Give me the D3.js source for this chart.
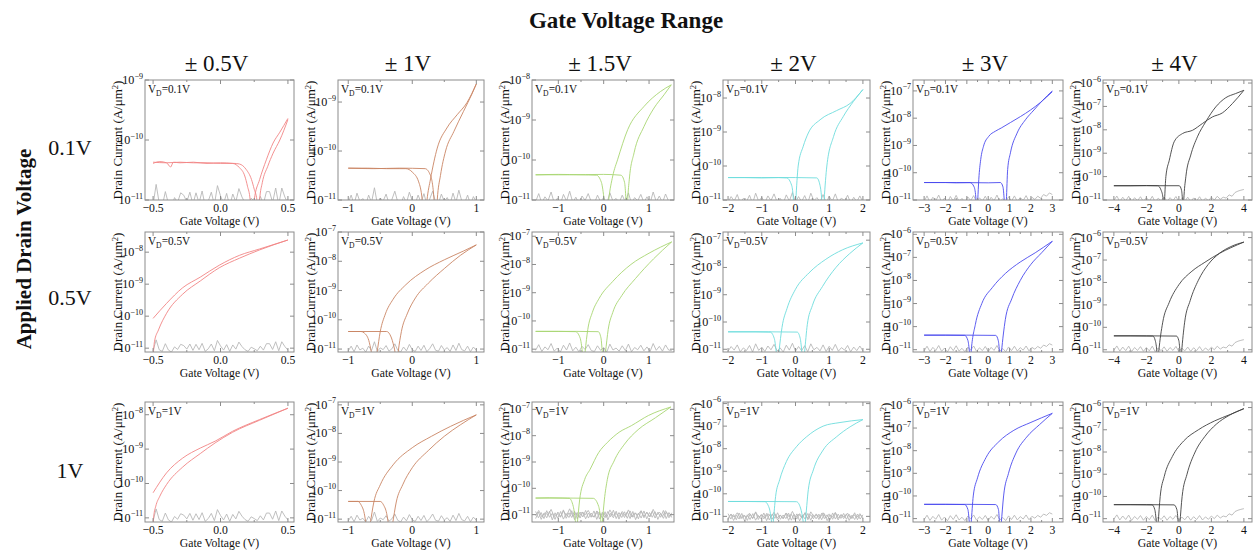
<!DOCTYPE html>
<html>
<head>
<meta charset="utf-8">
<script src="https://cdn.jsdelivr.net/npm/d3@7"></script>
<style>
  body { margin: 0; background: #fff; }
  text { font-family: "Liberation Serif", "Times New Roman", serif; fill: #111; }
</style>
</head>
<body>
<script>
// ---- grid labels ----
const gateRanges = [0.5, 1, 1.5, 2, 3, 4];
const columnTitles = ["± 0.5V", "± 1V", "± 1.5V", "± 2V", "± 3V", "± 4V"];
const drainLabels = ["0.1V", "0.5V", "1V"];
const sweepColors = ["#f28484", "#c98463", "#a8d672", "#6ddcdc", "#4a4aee", "#404040"];
const xTickValues = [
  [-0.5, 0, 0.5], [-1, 0, 1], [-1, 0, 1],
  [-2, -1, 0, 1, 2], [-3, -2, -1, 0, 1, 2, 3], [-4, -2, 0, 2, 4]
];
// gate-voltage axis limits per column
const xAxisLow = [-0.56, -1.16, -1.58, -2.15, -3.52, -4.67];
const xAxisHigh = [0.545, 1.12, 1.55, 2.21, 3.5, 4.5];
// log10 of the drain-current axis limits (rows: V_D, columns: gate range)
const yLogLow = [
  [-11, -11, -11, -11, -11, -11],
  [-11.12, -11.1, -11.1, -11.1, -11.1, -11.1],
  [-11.12, -11.1, -11.28, -11.25, -11.15, -11.15]
];
const yLogHigh = [
  [-9, -8.55, -8, -7.47, -6.6, -5.87],
  [-7.37, -7.0, -6.85, -6.7, -5.9, -5.75],
  [-7.63, -6.9, -6.72, -5.93, -5.85, -5.75]
];

// ---- transfer sweeps: [gate voltage (V), log10 drain current (A/um^2)] ----
// V_D = 0.1 V
const fwdR0C0 = [[-0.5,-10.39],[-0.45,-10.36],[-0.4,-10.38],[-0.37,-10.45],[-0.35,-10.37],[-0.3,-10.38],[-0.2,-10.37],[-0.1,-10.39],[0,-10.38],[0.09,-10.39],[0.14,-10.46],[0.18,-10.6],[0.2,-10.77],[0.22,-11.0],[0.235,-11.5],[0.25,-11.0],[0.29,-10.66],[0.34,-10.33],[0.39,-10.05],[0.44,-9.87],[0.5,-9.64]];
const revR0C0 = [[-0.5,-10.37],[-0.4,-10.38],[-0.3,-10.37],[-0.2,-10.38],[-0.1,-10.38],[0,-10.39],[0.1,-10.39],[0.14,-10.4],[0.19,-10.49],[0.23,-10.66],[0.25,-10.82],[0.27,-11.0],[0.28,-11.5],[0.29,-11.0],[0.31,-10.71],[0.35,-10.44],[0.39,-10.22],[0.44,-10.0],[0.5,-9.66]];
const fwdR0C1 = [[-1,-10.35],[-0.7,-10.35],[-0.4,-10.36],[-0.1,-10.36],[0,-10.43],[0.1,-10.63],[0.155,-11.0],[0.19,-11.6],[0.23,-11.0],[0.285,-10.57],[0.39,-9.94],[0.54,-9.53],[0.7,-9.26],[0.855,-9.01],[1,-8.63]];
const revR0C1 = [[-1,-10.35],[-0.6,-10.36],[-0.2,-10.35],[0.2,-10.36],[0.285,-10.5],[0.34,-11.0],[0.365,-11.6],[0.39,-11.0],[0.44,-10.5],[0.52,-10.0],[0.65,-9.6],[0.8,-9.19],[0.93,-8.84],[1,-8.63]];
const fwdR0C2 = [[-1.5,-10.37],[-1.0,-10.36],[-0.5,-10.37],[-0.16,-10.38],[-0.05,-10.56],[0.01,-11.0],[0.06,-11.6],[0.11,-11.0],[0.2,-10.4],[0.31,-9.98],[0.53,-9.24],[0.89,-8.66],[1.25,-8.29],[1.49,-8.12]];
const revR0C2 = [[-1.5,-10.37],[-0.8,-10.37],[0,-10.36],[0.38,-10.38],[0.46,-10.56],[0.49,-11.0],[0.51,-11.6],[0.53,-11.0],[0.565,-10.48],[0.67,-9.82],[0.89,-9.16],[1.11,-8.7],[1.33,-8.37],[1.49,-8.12]];
const fwdR0C3 = [[-2,-10.34],[-1.5,-10.34],[-1,-10.35],[-0.5,-10.34],[-0.26,-10.35],[-0.11,-10.58],[-0.06,-11.0],[-0.025,-11.6],[0.01,-11.0],[0.08,-10.0],[0.23,-9.42],[0.38,-9.03],[0.73,-8.64],[1.22,-8.37],[1.62,-8.16],[2,-7.75]];
const revR0C3 = [[-2,-10.34],[-1,-10.34],[0,-10.34],[0.63,-10.35],[0.73,-10.58],[0.78,-11.0],[0.815,-11.6],[0.85,-11.0],[0.93,-10.0],[1.13,-9.13],[1.42,-8.54],[1.72,-8.1],[2,-7.75]];
const fwdR0C4 = [[-3,-10.36],[-2,-10.36],[-1.5,-10.37],[-0.85,-10.36],[-0.66,-10.52],[-0.57,-11.0],[-0.53,-11.6],[-0.49,-11.0],[-0.44,-10.24],[-0.35,-9.51],[-0.22,-9.03],[0.02,-8.67],[0.33,-8.48],[0.61,-8.36],[1.04,-8.16],[1.51,-7.94],[1.98,-7.7],[2.45,-7.42],[3,-7.03]];
const revR0C4 = [[-3,-10.36],[-1.5,-10.36],[0,-10.37],[0.57,-10.36],[0.69,-10.52],[0.75,-11.0],[0.8,-11.6],[0.85,-11.0],[0.91,-9.88],[1.04,-9.27],[1.35,-8.55],[1.74,-8.06],[2.14,-7.7],[2.53,-7.36],[3,-7.0]];
const fwdR0C5 = [[-4,-10.39],[-3,-10.39],[-2,-10.38],[-1.3,-10.39],[-1.1,-10.57],[-0.96,-11.0],[-0.92,-11.6],[-0.88,-11.0],[-0.8,-10.0],[-0.59,-9.3],[-0.29,-8.51],[0.22,-8.16],[0.84,-8.02],[1.45,-7.73],[2.06,-7.45],[2.67,-7.28],[3.29,-6.88],[4,-6.31]];
const revR0C5 = [[-4,-10.39],[-2,-10.39],[0.02,-10.39],[0.16,-10.57],[0.22,-11.0],[0.26,-11.6],[0.3,-11.0],[0.43,-10.0],[0.73,-9.08],[1.14,-8.3],[1.65,-7.66],[2.27,-7.02],[2.88,-6.63],[3.49,-6.45],[4,-6.31]];
// V_D = 0.5 V
const fwdR1C0 = [[-0.5,-10.07],[-0.4,-9.6],[-0.28,-9.11],[-0.15,-8.78],[-0.01,-8.41],[0.14,-8.1],[0.29,-7.9],[0.5,-7.62]];
const revR1C0 = [[-0.5,-11.3],[-0.49,-10.8],[-0.46,-10.43],[-0.4,-9.91],[-0.28,-9.31],[-0.15,-8.9],[-0.01,-8.49],[0.14,-8.19],[0.29,-7.93],[0.5,-7.62]];
const fwdR1C1 = [[-1,-10.4],[-0.8,-10.4],[-0.75,-10.45],[-0.68,-10.7],[-0.64,-11.1],[-0.6,-11.6],[-0.55,-11.1],[-0.5,-10.4],[-0.42,-9.8],[-0.3,-9.3],[-0.1,-8.8],[0.2,-8.3],[0.5,-7.95],[0.8,-7.65],[1,-7.44]];
const revR1C1 = [[-1,-10.4],[-0.4,-10.4],[-0.35,-10.5],[-0.3,-10.8],[-0.27,-11.1],[-0.245,-11.6],[-0.22,-11.1],[-0.17,-10.4],[-0.08,-9.8],[0.05,-9.25],[0.25,-8.75],[0.5,-8.25],[0.75,-7.8],[1,-7.44]];
const fwdR1C2 = [[-1.5,-10.37],[-1,-10.37],[-0.62,-10.38],[-0.52,-10.6],[-0.47,-11.1],[-0.44,-11.6],[-0.41,-11.1],[-0.35,-10.3],[-0.25,-9.7],[-0.1,-9.2],[0.2,-8.6],[0.6,-8.0],[1.0,-7.6],[1.5,-7.2]];
const revR1C2 = [[-1.5,-10.37],[-0.6,-10.37],[-0.12,-10.38],[-0.06,-10.6],[-0.03,-11.1],[0.0,-11.6],[0.04,-11.1],[0.1,-10.3],[0.2,-9.7],[0.4,-9.1],[0.7,-8.5],[1.1,-7.8],[1.5,-7.2]];
const fwdR1C3 = [[-2,-10.36],[-1.2,-10.36],[-0.75,-10.37],[-0.63,-10.6],[-0.57,-11.1],[-0.53,-11.6],[-0.49,-11.1],[-0.4,-10.2],[-0.25,-9.5],[0,-8.8],[0.4,-8.2],[0.9,-7.7],[1.4,-7.35],[2,-7.1]];
const revR1C3 = [[-2,-10.36],[-0.8,-10.36],[0.05,-10.37],[0.14,-10.6],[0.19,-11.1],[0.23,-11.6],[0.27,-11.1],[0.35,-10.1],[0.5,-9.4],[0.8,-8.7],[1.2,-8.0],[1.6,-7.5],[2,-7.1]];
const fwdR1C4 = [[-3,-10.37],[-2,-10.37],[-1.1,-10.38],[-0.95,-10.6],[-0.88,-11.1],[-0.84,-11.6],[-0.8,-11.1],[-0.6,-9.9],[-0.3,-9.0],[0.2,-8.3],[0.8,-7.7],[1.5,-7.2],[2.2,-6.8],[3,-6.3]];
const revR1C4 = [[-3,-10.37],[-1,-10.37],[0.35,-10.38],[0.47,-10.6],[0.53,-11.1],[0.57,-11.6],[0.62,-11.1],[0.8,-9.7],[1.1,-8.8],[1.5,-8.0],[2.0,-7.3],[2.5,-6.8],[3,-6.3]];
const fwdR1C5 = [[-4,-10.38],[-3,-10.38],[-1.6,-10.39],[-1.45,-10.6],[-1.35,-11.1],[-1.3,-11.6],[-1.24,-11.1],[-1.0,-9.8],[-0.6,-8.9],[0,-8.1],[0.8,-7.5],[1.6,-7.1],[2.5,-6.7],[3.2,-6.45],[4,-6.2]];
const revR1C5 = [[-4,-10.38],[-2,-10.38],[-0.15,-10.39],[0.0,-10.6],[0.07,-11.1],[0.12,-11.6],[0.17,-11.1],[0.35,-9.8],[0.7,-8.8],[1.2,-7.9],[1.8,-7.2],[2.5,-6.7],[3.2,-6.4],[4,-6.2]];
// V_D = 1 V
const fwdR2C0 = [[-0.5,-10.27],[-0.4,-9.69],[-0.28,-9.26],[-0.15,-8.97],[-0.04,-8.77],[0.09,-8.48],[0.29,-8.14],[0.5,-7.81]];
const revR2C0 = [[-0.5,-11.3],[-0.495,-10.95],[-0.48,-10.66],[-0.45,-10.37],[-0.4,-10.03],[-0.28,-9.52],[-0.15,-9.13],[-0.04,-8.82],[0.09,-8.51],[0.29,-8.16],[0.5,-7.81]];
const fwdR2C1 = [[-1,-10.38],[-0.85,-10.38],[-0.8,-10.5],[-0.75,-10.8],[-0.72,-11.2],[-0.69,-11.6],[-0.66,-11.2],[-0.6,-10.4],[-0.5,-9.8],[-0.3,-9.1],[0,-8.5],[0.3,-8.1],[0.6,-7.75],[1,-7.35]];
const revR2C1 = [[-1,-10.38],[-0.5,-10.38],[-0.45,-10.5],[-0.4,-10.8],[-0.37,-11.2],[-0.34,-11.6],[-0.31,-11.2],[-0.25,-10.4],[-0.15,-9.8],[0,-9.2],[0.25,-8.6],[0.5,-8.1],[0.75,-7.7],[1,-7.35]];
const fwdR2C2 = [[-1.5,-10.37],[-1.2,-10.36],[-0.9,-10.37],[-0.76,-10.38],[-0.67,-10.69],[-0.62,-11.3],[-0.6,-11.6],[-0.58,-11.3],[-0.53,-10.44],[-0.42,-9.67],[-0.3,-9.28],[-0.11,-8.64],[0.08,-8.26],[0.34,-7.87],[0.61,-7.62],[0.99,-7.23],[1.48,-6.91]];
const revR2C2 = [[-1.5,-10.37],[-0.8,-10.37],[-0.23,-10.38],[-0.11,-10.69],[-0.06,-11.3],[-0.045,-11.6],[-0.03,-11.3],[0.015,-10.44],[0.08,-9.67],[0.23,-8.96],[0.46,-8.32],[0.76,-7.77],[1.14,-7.32],[1.48,-6.91]];
const fwdR2C3 = [[-2,-10.34],[-1.5,-10.34],[-0.91,-10.35],[-0.78,-10.63],[-0.71,-11.25],[-0.685,-11.6],[-0.66,-11.25],[-0.59,-10.12],[-0.47,-9.38],[-0.27,-8.57],[0.03,-7.91],[0.33,-7.47],[0.82,-7.0],[1.32,-6.84],[2,-6.71]];
const revR2C3 = [[-2,-10.34],[-1,-10.34],[0.03,-10.35],[0.15,-10.63],[0.23,-11.25],[0.26,-11.6],[0.29,-11.25],[0.38,-9.82],[0.53,-8.94],[0.82,-8.06],[1.22,-7.47],[1.62,-7.03],[2,-6.71]];
const fwdR2C4 = [[-3,-10.37],[-2,-10.37],[-1.1,-10.38],[-0.95,-10.6],[-0.88,-11.2],[-0.84,-11.6],[-0.8,-11.2],[-0.7,-10.0],[-0.5,-9.2],[-0.1,-8.3],[0.5,-7.6],[1.2,-7.1],[2,-6.75],[3,-6.35]];
const revR2C4 = [[-3,-10.37],[-1,-10.37],[0.35,-10.38],[0.48,-10.6],[0.53,-11.2],[0.57,-11.6],[0.61,-11.2],[0.72,-10.0],[0.95,-9.0],[1.3,-8.1],[1.8,-7.4],[2.4,-6.85],[3,-6.35]];
const fwdR2C5 = [[-4,-10.37],[-3,-10.37],[-1.65,-10.38],[-1.48,-10.6],[-1.38,-11.2],[-1.33,-11.6],[-1.28,-11.2],[-1.15,-10.0],[-0.9,-9.1],[-0.4,-8.2],[0.3,-7.5],[1.2,-7.0],[2.2,-6.6],[3.2,-6.3],[4,-6.05]];
const revR2C5 = [[-4,-10.37],[-2,-10.37],[-0.3,-10.38],[-0.12,-10.6],[-0.04,-11.2],[0.01,-11.6],[0.06,-11.2],[0.2,-10.0],[0.5,-9.0],[1.0,-8.0],[1.6,-7.3],[2.3,-6.75],[3.1,-6.35],[4,-6.05]];

// ---- gate leakage, log10 current on an even gate-voltage grid ----
const leakC0 = [-11.08,-10.74,-11.05,-11.1,-10.86,-11.06,-11.12,-10.96,-11.04,-10.88,-10.92,-11.03,-10.87,-11.07,-10.88,-11.05,-10.85,-11.1,-11.02,-10.87,-11.08,-10.76,-10.93,-11.06,-10.89,-11.1,-10.9,-11.03,-10.81,-10.95,-11.05,-11.1,-10.97,-11.02,-11.08,-10.94,-11.06,-10.86,-10.86,-11.04,-10.8,-11.08,-10.8,-10.95,-11.06];
const leakC1 = [-11.06,-10.9,-11.09,-10.86,-11.03,-10.97,-11.1,-10.9,-11.05,-10.75,-11.08,-10.96,-11.02,-10.88,-11.07,-10.99,-10.82,-11.04,-11.1,-10.93,-11.06,-10.84,-11.02,-11.08,-10.9,-11.05,-10.87,-11.09,-10.98,-10.82,-11.04,-11.07,-10.88,-11.03,-10.95,-11.08,-10.86,-11.05,-10.8,-11.02,-11.06,-10.9,-11.09,-10.93,-11.04];
const leakC2 = [-11.04,-10.84,-11.08,-10.92,-11.02,-10.8,-11.07,-10.96,-11.1,-10.86,-11.03,-10.78,-11.06,-10.93,-11.09,-10.9,-11.01,-10.84,-11.05,-11.08,-10.88,-11.04,-10.94,-11.1,-10.82,-11.03,-10.96,-11.07,-10.88,-11.05,-10.82,-11.09,-10.94,-11.02,-10.86,-11.06,-10.92,-11.08,-10.8,-11.04,-10.9,-11.07,-10.85,-11.03,-11.05];
const leakC3 = [-11.07,-10.9,-11.03,-10.84,-11.09,-10.95,-11.05,-10.86,-11.1,-10.8,-11.04,-10.92,-11.08,-10.88,-11.02,-10.82,-11.06,-10.95,-11.1,-10.85,-11.03,-10.78,-11.07,-10.9,-11.05,-10.87,-11.09,-10.8,-11.02,-10.93,-11.06,-10.84,-11.08,-10.89,-11.04,-10.82,-11.07,-10.94,-11.03,-10.86,-11.09,-10.92,-11.05,-10.88,-11.06];
const leakC4 = [-11.05,-10.85,-11.08,-10.9,-11.03,-10.82,-11.07,-10.93,-11.1,-10.87,-11.04,-10.83,-11.06,-10.94,-11.09,-10.89,-11.02,-10.84,-11.07,-10.92,-11.04,-10.86,-11.08,-10.9,-11.03,-10.82,-11.06,-10.95,-11.09,-10.88,-11.04,-10.85,-11.06,-10.91,-11.02,-10.84,-11.05,-10.9,-10.98,-10.86,-10.94,-10.8,-10.86,-10.74,-10.8];
const leakC5 = [-11.02,-10.83,-11.06,-10.88,-11.04,-10.84,-11.08,-10.9,-11.03,-10.86,-11.07,-10.9,-11.05,-10.84,-11.09,-10.92,-11.04,-10.87,-11.07,-10.9,-11.03,-10.85,-11.08,-10.93,-11.05,-10.88,-11.07,-10.91,-11.04,-10.86,-11.06,-10.92,-11.03,-10.88,-11.0,-10.84,-10.97,-10.88,-10.92,-10.78,-10.84,-10.68,-10.62,-10.58,-10.55];
// extra leakage traces for the dense band at V_D = 1 V
const leakBandA = [-10.88,-11.12,-10.92,-11.15,-10.85,-11.1,-10.95,-11.18,-10.9,-11.08,-10.82,-11.14,-10.93,-11.11,-10.87,-11.16,-10.9,-11.09,-10.84,-11.13,-10.94,-11.1,-10.86,-11.17,-10.91,-11.12,-10.88,-11.08,-10.83,-11.15,-10.92,-11.11,-10.89,-11.14,-10.86,-11.1,-10.93,-11.16,-10.85,-11.12,-10.9,-11.09,-10.87,-11.13,-10.91,-11.1,-10.84,-11.15,-10.92,-11.11];
const leakBandB = [-11.15,-10.9,-11.18,-10.95,-11.12,-10.87,-11.2,-10.93,-11.14,-10.88,-11.17,-10.96,-11.11,-10.85,-11.19,-10.92,-11.13,-10.9,-11.16,-10.94,-11.1,-10.86,-11.18,-10.91,-11.14,-10.89,-11.2,-10.95,-11.12,-10.87,-11.17,-10.93,-11.11,-10.9,-11.15,-10.88,-11.19,-10.94,-11.13,-10.86,-11.16,-10.92,-11.1,-10.89,-11.18,-10.95,-11.14,-10.9,-11.12,-10.93];

const forwardSweeps = [
  [fwdR0C0, fwdR0C1, fwdR0C2, fwdR0C3, fwdR0C4, fwdR0C5],
  [fwdR1C0, fwdR1C1, fwdR1C2, fwdR1C3, fwdR1C4, fwdR1C5],
  [fwdR2C0, fwdR2C1, fwdR2C2, fwdR2C3, fwdR2C4, fwdR2C5]
];
const reverseSweeps = [
  [revR0C0, revR0C1, revR0C2, revR0C3, revR0C4, revR0C5],
  [revR1C0, revR1C1, revR1C2, revR1C3, revR1C4, revR1C5],
  [revR2C0, revR2C1, revR2C2, revR2C3, revR2C4, revR2C5]
];
const leakTraces = [leakC0, leakC1, leakC2, leakC3, leakC4, leakC5];

// ---- layout ----
const W = 1254, H = 550;
const panelLefts = [145, 338, 532, 723, 913, 1103];
const panelRights = [294, 484, 674, 870, 1063, 1252];
const panelTops = [80, 232, 402], panelH = 120;
const squeeze = 0.9;            // horizontal text compression
const frameColor = "#8c8c8c";

const svg = d3.select("body").append("svg")
  .attr("width", W).attr("height", H)
  .style("display", "block");

function hText(parent, x, y, size, anchor) {
  return parent.append("text")
    .attr("transform", `translate(${x},${y}) scale(${squeeze},1)`)
    .attr("font-size", size)
    .attr("text-anchor", anchor);
}

// titles
svg.append("text").attr("x", 626).attr("y", 28)
  .attr("text-anchor", "middle").attr("font-size", 23).attr("font-weight", "bold")
  .text("Gate Voltage Range");

svg.append("text").attr("transform", "translate(31,249) rotate(-90)")
  .attr("text-anchor", "middle").attr("font-size", 21).attr("font-weight", "bold")
  .text("Applied Drain Voltage");

const rowLabelY = [155, 305, 478];
drainLabels.forEach((t, r) => {
  svg.append("text").attr("x", 70).attr("y", rowLabelY[r])
    .attr("text-anchor", "middle").attr("font-size", 22).text(t);
});

columnTitles.forEach((t, c) => {
  svg.append("text").attr("x", (panelLefts[c] + panelRights[c]) / 2 - 3).attr("y", 71)
    .attr("text-anchor", "middle").attr("font-size", 23).text(t);
});

const defs = svg.append("defs");

for (let r = 0; r < 3; r++) {
  for (let c = 0; c < 6; c++) {
    const left = panelLefts[c];
    const panelW = panelRights[c] - panelLefts[c];
    const top = panelTops[r];
    const g = gateRanges[c];
    const x = d3.scaleLinear().domain([xAxisLow[c], xAxisHigh[c]]).range([left, left + panelW]);
    const y = d3.scaleLog()
      .domain([Math.pow(10, yLogLow[r][c]), Math.pow(10, yLogHigh[r][c])])
      .range([top + panelH, top]);
    const panel = svg.append("g");
    const clipId = `clip-${r}-${c}`;
    defs.append("clipPath").attr("id", clipId)
      .append("rect").attr("x", left).attr("y", top).attr("width", panelW).attr("height", panelH);

    const plot = panel.append("g").attr("clip-path", `url(#${clipId})`);

    // gate leakage traces
    const leakLine = (arr) => d3.line()
      .x((d, i) => x(-g + i * (2 * g) / (arr.length - 1)))
      .y(d => y(Math.pow(10, d)))(arr);
    const leaks = [leakTraces[c]];
    if (r === 2 && (c === 2 || c === 3)) leaks.push(leakBandA, leakBandB);
    leaks.forEach(arr => {
      plot.append("path").attr("d", leakLine(arr))
        .attr("fill", "none").attr("stroke", "#b8b8b8").attr("stroke-width", 0.9);
    });

    // drain current sweeps
    const sweepLine = d3.line()
      .x(d => x(d[0]))
      .y(d => y(Math.pow(10, d[1])))
      .curve(d3.curveMonotoneX);
    [forwardSweeps[r][c], reverseSweeps[r][c]].forEach(arr => {
      plot.append("path").attr("d", sweepLine(arr))
        .attr("fill", "none").attr("stroke", sweepColors[c]).attr("stroke-width", 0.9);
    });

    // frame
    panel.append("rect").attr("x", left).attr("y", top)
      .attr("width", panelW).attr("height", panelH)
      .attr("fill", "none").attr("stroke", frameColor).attr("stroke-width", 1);

    // x ticks (inward, top and bottom) with labels
    const xt = xTickValues[c];
    const step = xt[1] - xt[0];
    const minor = [];
    for (let i = 0; i < xt.length - 1; i++) minor.push(xt[i] + step / 2);
    const fmt = c === 0 ? d3.format(".1f") : d3.format("d");
    xt.forEach(v => {
      const px = x(v);
      panel.append("line").attr("x1", px).attr("x2", px)
        .attr("y1", top + panelH).attr("y2", top + panelH - 4).attr("stroke", frameColor);
      panel.append("line").attr("x1", px).attr("x2", px)
        .attr("y1", top).attr("y2", top + 4).attr("stroke", frameColor);
      hText(panel, px, top + panelH + 12, 13, "middle").text(fmt(v));
    });
    minor.forEach(v => {
      const px = x(v);
      panel.append("line").attr("x1", px).attr("x2", px)
        .attr("y1", top + panelH).attr("y2", top + panelH - 2).attr("stroke", frameColor);
      panel.append("line").attr("x1", px).attr("x2", px)
        .attr("y1", top).attr("y2", top + 2).attr("stroke", frameColor);
    });

    // y ticks at each decade
    for (let k = Math.ceil(yLogLow[r][c] - 1e-9); k <= Math.floor(yLogHigh[r][c] + 1e-9); k++) {
      const py = y(Math.pow(10, k));
      panel.append("line").attr("x1", left).attr("x2", left + 4)
        .attr("y1", py).attr("y2", py).attr("stroke", frameColor);
      panel.append("line").attr("x1", left + panelW).attr("x2", left + panelW - 4)
        .attr("y1", py).attr("y2", py).attr("stroke", frameColor);
      const t = hText(panel, left - 2, py + 4, 13.5, "end");
      t.append("tspan").text("10");
      t.append("tspan").attr("dy", -5.5).attr("font-size", 9).text("−" + Math.abs(k));
    }

    // axis titles
    hText(panel, left + panelW / 2, top + panelH + 25, 13, "middle").text("Gate Voltage (V)");
    const yl = panel.append("text")
      .attr("transform", `translate(${left - 23},${top + panelH / 2}) rotate(-90)`)
      .attr("text-anchor", "middle").attr("font-size", 13);
    yl.append("tspan").text("Drain Current (A/μm");
    yl.append("tspan").attr("dy", -4).attr("font-size", 8.5).text("2");
    yl.append("tspan").attr("dy", 4).text(")");

    // V_D annotation
    const vd = hText(panel, left + 3, top + 13, 12.5, "start");
    vd.append("tspan").text("V");
    vd.append("tspan").attr("dy", 3).attr("font-size", 8.5).text("D");
    vd.append("tspan").attr("dy", -3).text("=" + drainLabels[r]);
  }
}
</script>
</body>
</html>
